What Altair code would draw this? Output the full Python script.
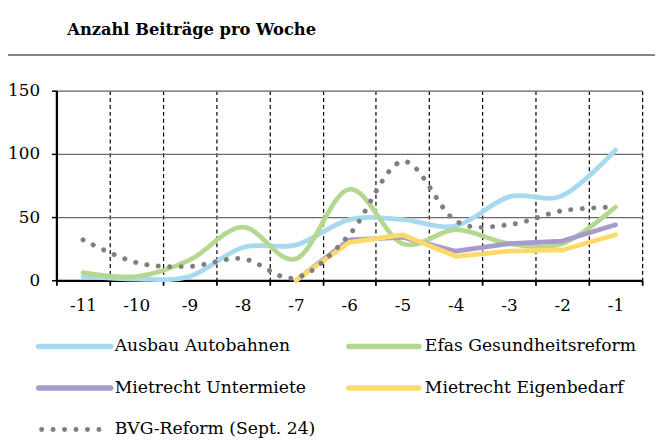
import altair as alt
import pandas as pd

# ---- data ----
weeks = [-11, -10, -9, -8, -7, -6, -5, -4, -3, -2, -1]
series_names = [
    "Ausbau Autobahnen",
    "Efas Gesundheitsreform",
    "Mietrecht Untermiete",
    "Mietrecht Eigenbedarf",
    "BVG-Reform (Sept. 24)",
]
ausbau = [3, 1, 3, 26, 28, 48, 48, 43, 66, 67, 103]
efas = [6, 3, 16, 42, 17, 72, 29, 40, 29, 29, 58]
untermiete = [None, None, None, None, 0, 32, 34, 23, 29, 31, 44]
eigenbedarf = [None, None, None, None, 0, 30, 36, 19, 23, 24, 36]
bvg = [32, 14, 11, 17, 2, 36, 94, 47, 44, 55, 58]
y_ticks = [0, 50, 100, 150]
title_text = "Anzahl Beiträge pro Woche"

colors = ["#A8DAEF", "#B5D78F", "#A69BCB", "#FFD96B", "#7F7F7F"]
values = [ausbau, efas, untermiete, eigenbedarf, bvg]

rows = []
for name, vals in zip(series_names, values):
    for w, v in zip(weeks, vals):
        if v is not None:
            rows.append({"Serie": name, "Woche": w, "Wert": v})
df = pd.DataFrame(rows)

FONT = "DejaVu Serif"
W, H = 593, 192
x_bounds = [w - 0.5 for w in weeks] + [weeks[-1] + 0.5]

x_enc = alt.X(
    "Woche:Q",
    scale=alt.Scale(domain=[weeks[0] - 0.5, weeks[-1] + 0.5], nice=False, zero=False),
    axis=alt.Axis(
        values=x_bounds,
        title=None,
        grid=True,
        gridDash=[4, 3],
        gridColor="#000000",
        gridWidth=1.2,
        gridOpacity=1,
        domainColor="#000000",
        domainWidth=2.3,
        tickColor="#000000",
        tickWidth=1.8,
        tickSize=5,
        labelExpr="datum.value > -1 ? '' : '' + (datum.value + 0.5)",
        labelOffset=W / 11 / 2,
        labelFlush=False,
        labelOverlap=False,
        labelBound=False,
        labelFont=FONT,
        labelFontSize=17,
        labelColor="#000000",
        labelPadding=13,
    ),
)
y_enc = alt.Y(
    "Wert:Q",
    scale=alt.Scale(domain=[0, 150], nice=False),
    axis=alt.Axis(
        values=y_ticks,
        title=None,
        grid=True,
        gridColor="#6a6a6a",
        gridWidth=1.3,
        gridOpacity=1,
        domainColor="#000000",
        domainWidth=2.3,
        tickColor="#000000",
        tickWidth=1.5,
        tickSize=5,
        labelFont=FONT,
        labelFontSize=17,
        labelColor="#000000",
        labelPadding=12,
    ),
)

layers = []
interp = ["cardinal", "cardinal", "linear", "linear", "cardinal"]
for i, name in enumerate(series_names):
    props = dict(
        interpolate=interp[i],
        strokeWidth=4.8 if i < 4 else 5,
        strokeCap="round",
        strokeJoin="round",
        color=colors[i],
    )
    if interp[i] == "cardinal":
        props["tension"] = 0
    if i == 4:
        props["strokeDash"] = [0.1, 11.5]
    layers.append(
        alt.Chart(df)
        .transform_filter(alt.datum.Serie == name)
        .mark_line(**props)
        .encode(x=x_enc, y=y_enc, order="Woche:Q")
    )

one = alt.Data(values=[{}])

# title and separator line
layers.append(
    alt.Chart(one).mark_text(
        text=title_text, font=FONT, fontSize=16.5, fontWeight="bold",
        align="left", baseline="middle", color="#000000"
    ).encode(x=alt.value(11), y=alt.value(-61))
)
layers.append(
    alt.Chart(one).mark_rule(color="#5f5f5f", strokeWidth=1.5).encode(
        x=alt.value(-60), x2=alt.value(610), y=alt.value(-36)
    )
)

# legend
leg_pos = [(-18, 55, 59, 259), (296, 367, 373, 259), (-18, 55, 59, 301), (296, 367, 373, 301), (-15, 45, 59, 343)]
for i, name in enumerate(series_names):
    x1, x2, tx, ty = leg_pos[i]
    rp = dict(color=colors[i], strokeWidth=5.5 if i < 4 else 5, strokeCap="round")
    if i == 4:
        rp["strokeDash"] = [0.1, 11.5]
    layers.append(
        alt.Chart(one).mark_rule(**rp).encode(x=alt.value(x1), x2=alt.value(x2), y=alt.value(ty))
    )
    layers.append(
        alt.Chart(one).mark_text(
            text=name, font=FONT, fontSize=17.4, align="left", baseline="middle", color="#000000"
        ).encode(x=alt.value(tx), y=alt.value(ty))
    )

chart = (
    alt.layer(*layers)
    .properties(
        width=W,
        height=H,
        autosize=alt.AutoSizeParams(type="none"),
        padding={"left": 49, "top": 81, "right": 13, "bottom": 158},
    )
    .configure_view(stroke=None)
    .configure(background="#ffffff")
)

chart.save("out.html", embed_options={"renderer": "svg", "actions": False})
